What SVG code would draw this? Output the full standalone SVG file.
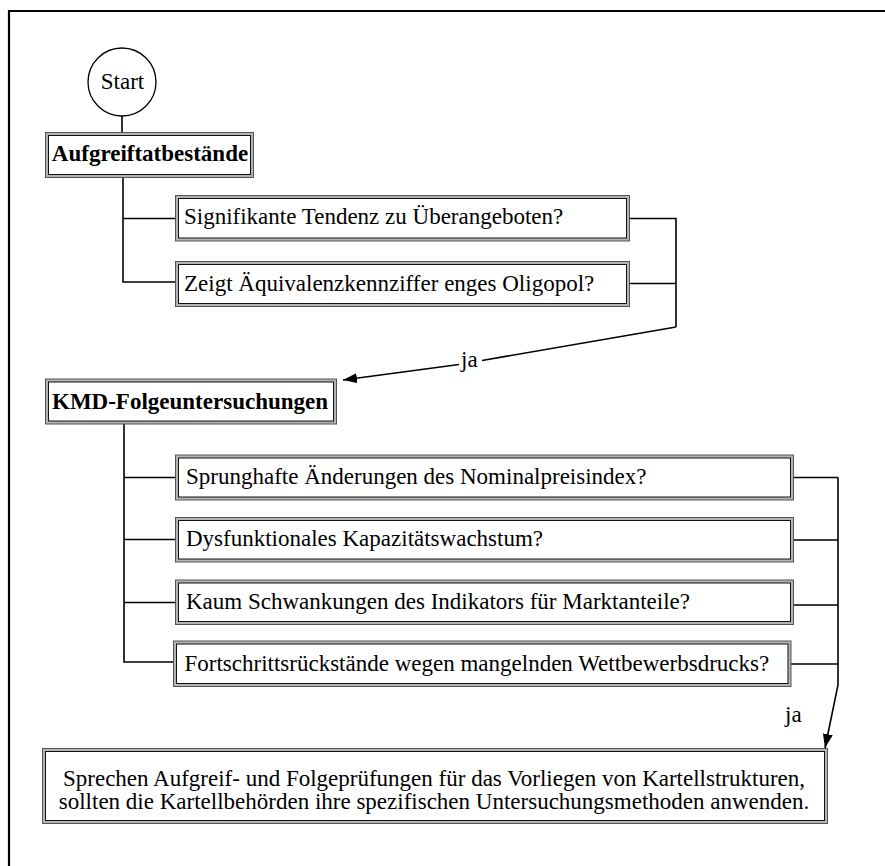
<svg xmlns="http://www.w3.org/2000/svg" width="885" height="866" viewBox="0 0 885 866">
<style>
.t{font-family:'Liberation Serif','Tinos','DejaVu Serif',serif;font-size:23px;fill:#000}
.b{font-weight:bold}
.ob{fill:#b4b4b4;stroke:#555;stroke-width:1}
.ib{fill:#fff;stroke:#111;stroke-width:1}
.c{fill:none;stroke:#000;stroke-width:1.6}
</style>
<defs>
<marker id="ah" viewBox="0 0 14 10" refX="14" refY="5" markerWidth="14" markerHeight="10" markerUnits="userSpaceOnUse" orient="auto">
<path d="M0,0 L14,5 L0,10 z" fill="#000"/>
</marker>
</defs>
<rect x="0" y="0" width="885" height="866" fill="#fff"/>
<path d="M9,900 L9,11 L900,11" fill="none" stroke="#000" stroke-width="2.2"/>

<g id="connectors">
<line class="c" x1="122" y1="116" x2="122" y2="133"/>
<path class="c" d="M123,178 L123,282 L176,282 M123,218.5 L176,218.5"/>
<path class="c" d="M629,218.5 L676,218.5 L676,327 M629,283.5 L676,283.5"/>
<path class="c" d="M676,327 L482,360.5"/>
<path class="c" d="M459,364.5 L343,380" marker-end="url(#ah)"/>
<path class="c" d="M124,424 L124,662 L174,662 M124,477.5 L176,477.5 M124,539.5 L176,539.5 M124,602.5 L176,602.5"/>
<path class="c" d="M793,477.5 L838,477.5 M793,540 L838,540 M793,605 L838,605 M791,664 L838,664"/>
<path class="c" d="M838,477.5 L838,685 L825,748" marker-end="url(#ah)"/>
<text class="t" x="461" y="366.5">ja</text>
<text class="t" x="785" y="722">ja</text>
</g>

<g id="start">
<circle cx="122" cy="82" r="34" fill="#fff" stroke="#000" stroke-width="1.3"/>
<text class="t" x="122.5" y="89" text-anchor="middle">Start</text>
</g>

<g id="aufgreif">
<rect class="ob" x="45.5" y="132.5" width="208" height="45"/>
<rect class="ib" x="48.5" y="135.5" width="202" height="39"/>
<text class="t b" x="150" y="160.5" text-anchor="middle">Aufgreiftatbestände</text>
</g>

<g id="q1">
<rect class="ob" x="175.5" y="195.5" width="454" height="45.5"/>
<rect class="ib" x="178.5" y="198.5" width="448" height="39.5"/>
<text class="t" x="184" y="224">Signifikante Tendenz zu Überangeboten?</text>
</g>

<g id="q2">
<rect class="ob" x="175.5" y="261.5" width="454" height="45"/>
<rect class="ib" x="178.5" y="264.5" width="448" height="39"/>
<text class="t" x="184" y="290.5">Zeigt Äquivalenzkennziffer enges Oligopol?</text>
</g>

<g id="kmd">
<rect class="ob" x="45.5" y="379" width="291" height="45"/>
<rect class="ib" x="48.5" y="382" width="285" height="39"/>
<text class="t b" x="190" y="409" text-anchor="middle">KMD-Folgeuntersuchungen</text>
</g>

<g id="q3">
<rect class="ob" x="175.5" y="455" width="618" height="45"/>
<rect class="ib" x="178.5" y="458" width="612" height="39"/>
<text class="t" x="186" y="484">Sprunghafte Änderungen des Nominalpreisindex?</text>
</g>

<g id="q4">
<rect class="ob" x="175.5" y="517.5" width="618" height="44.5"/>
<rect class="ib" x="178.5" y="520.5" width="612" height="38.5"/>
<text class="t" x="186" y="545.5">Dysfunktionales Kapazitätswachstum?</text>
</g>

<g id="q5">
<rect class="ob" x="175.5" y="580" width="618" height="44.5"/>
<rect class="ib" x="178.5" y="583" width="612" height="38.5"/>
<text class="t" x="186" y="609">Kaum Schwankungen des Indikators für Marktanteile?</text>
</g>

<g id="q6">
<rect class="ob" x="173.5" y="641" width="617.5" height="45.5"/>
<rect class="ib" x="176.5" y="644" width="611.5" height="39.5"/>
<text class="t" x="184.5" y="670.5">Fortschrittsrückstände wegen mangelnden Wettbewerbsdrucks?</text>
</g>

<g id="result">
<rect class="ob" x="42.5" y="748.5" width="785" height="75"/>
<rect class="ib" x="45.5" y="751.5" width="779" height="69"/>
<text class="t" x="434" y="785.5" text-anchor="middle">Sprechen Aufgreif- und Folgeprüfungen für das Vorliegen von Kartellstrukturen,</text>
<text class="t" x="434" y="809" text-anchor="middle">sollten die Kartellbehörden ihre spezifischen Untersuchungsmethoden anwenden.</text>
</g>
</svg>
